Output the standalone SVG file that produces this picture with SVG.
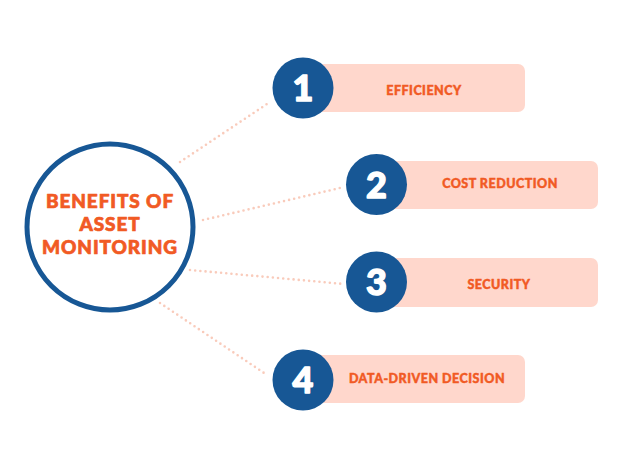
<svg xmlns="http://www.w3.org/2000/svg" width="624" height="468" viewBox="0 0 624 468">
<style>
.dots{fill:none;stroke:#f9cbbb;stroke-width:2.6;stroke-linecap:round;stroke-dasharray:0 5.2}
.bar{fill:#ffd7cc}
.num{fill:#175795}
.numt{fill:#fff;stroke:#fff;stroke-width:1.4px;stroke-linejoin:round;font-family:Lato,"Open Sans",sans-serif;font-weight:900;font-size:36px;text-anchor:middle}
.lbl{fill:#f15a24;stroke:#f15a24;stroke-width:0.45px;stroke-linejoin:round;font-family:Lato,"Open Sans",sans-serif;font-weight:900;font-size:12.5px;letter-spacing:0.5px;text-anchor:middle}
.title{fill:#f15a24;stroke:#f15a24;stroke-width:0.7px;stroke-linejoin:round;font-family:Lato,"Open Sans",sans-serif;font-weight:900;font-size:19px;letter-spacing:0.9px;text-anchor:middle}
</style>
<rect width="624" height="468" fill="#fff"/>
<g id="connectors">
<line class="dots" x1="180" y1="162" x2="267" y2="104"/>
<line class="dots" x1="203" y1="220" x2="340" y2="188"/>
<line class="dots" x1="190" y1="270" x2="344" y2="284"/>
<line class="dots" x1="160" y1="303" x2="267" y2="375"/>
</g>
<g id="center">
<circle cx="110" cy="227" r="83" fill="#fff" stroke="#175795" stroke-width="5"/>
<text class="title"><tspan x="110" y="208">BENEFITS OF</tspan><tspan x="110" y="231">ASSET</tspan><tspan x="110" y="254">MONITORING</tspan></text>
</g>
<g id="item1">
<rect class="bar" x="300" y="64" width="225" height="48" rx="7"/>
<circle class="num" cx="303" cy="88" r="30.5"/>
<text class="numt" x="303" y="101">1</text>
<text class="lbl" x="424" y="95">EFFICIENCY</text>
</g>
<g id="item2">
<rect class="bar" x="374" y="161" width="224" height="48" rx="7"/>
<circle class="num" cx="376.5" cy="184.5" r="30.5"/>
<text class="numt" x="376.5" y="197.5">2</text>
<text class="lbl" x="500" y="188">COST REDUCTION</text>
</g>
<g id="item3">
<rect class="bar" x="374" y="258" width="224" height="49" rx="7"/>
<circle class="num" cx="376.5" cy="282" r="30.5"/>
<text class="numt" x="376.5" y="295">3</text>
<text class="lbl" x="499" y="289">SECURITY</text>
</g>
<g id="item4">
<rect class="bar" x="300" y="355" width="225" height="48" rx="7"/>
<circle class="num" cx="303" cy="380" r="30.5"/>
<text class="numt" x="303" y="393">4</text>
<text class="lbl" x="427" y="383">DATA-DRIVEN DECISION</text>
</g>
</svg>
